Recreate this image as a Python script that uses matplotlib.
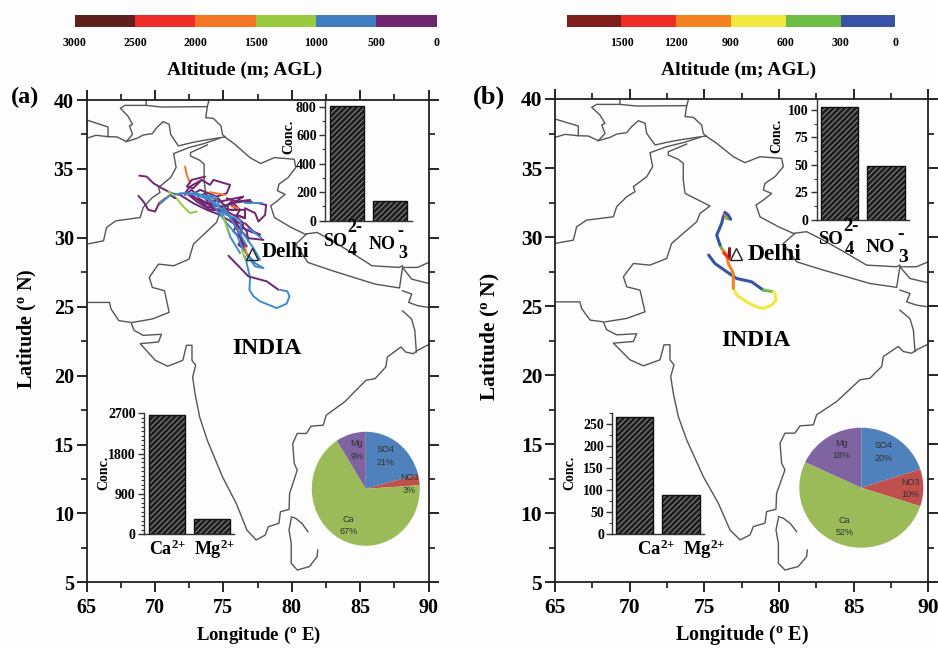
import matplotlib
matplotlib.use("Agg")
import matplotlib.pyplot as plt
from matplotlib.ticker import MultipleLocator

plt.rcParams['font.family'] = ['Liberation Serif', 'DejaVu Serif']
plt.rcParams['font.weight'] = 'bold'
plt.rcParams['mathtext.default'] = 'regular'
plt.rcParams['hatch.linewidth'] = 0.8

W, H = 938, 648

# ---------- data ----------
alt_a_edges = [3000, 2500, 2000, 1500, 1000, 500, 0]
alt_a_colors = ['#5f1f1f', '#ef2d28', '#f47524', '#9acb3c', '#3f7cc0', '#6f2670']
alt_b_edges = [1800, 1500, 1200, 900, 600, 300, 0]
alt_b_labels = [None, 1500, 1200, 900, 600, 300, 0]
alt_b_colors = ['#7f1d1d', '#ef2d28', '#f58220', '#f2e93e', '#6dbe45', '#3953a4']

cations = [r'Ca$^{2{+}}$', r'Mg$^{2{+}}$']
anion_a = [808, 138]
cation_a = [2655, 335]
anion_b = [102.5, 49]
cation_b = [266, 89]

pie_labels = ['SO4', 'NO3', 'Ca', 'Mg']
pie_colors = ['#4f81bd', '#c0504d', '#9bbb59', '#8064a2']
pie_a = [21, 3, 67, 9]
pie_b = [20, 10, 52, 18]

delhi = (77.1, 28.8)

# map outlines (lon, lat)
map_lines = [
    [(65,38.55),(66.56,38.04),(66.56,37.34)],
    [(65,37.22),(65.67,37.44),(66.56,37.34),(67.23,37.32),(67.9,36.98),(68.35,37.51),(68.13,38.12),(68.35,38.24),(68.01,38.84),(67.46,39.4),(67.79,39.61),(69.35,39.61),(69.35,39.93)],
    [(69.35,39.61),(70.47,39.49),(73.82,39.52),(73.93,39.93)],
    [(73.82,39.52),(73.71,38.72),(74.26,38.67),(74.82,38.12),(74.93,37.51),(75.11,37.32)],
    [(67.9,36.98),(68.68,37.22),(69.13,37.46),(69.8,37.56),(70.13,38.0),(70.58,38.43),(71.03,38.24),(71.14,37.51),(71.7,36.67),(72.7,36.91),(73.59,37.08),(75.11,37.32)],
    [(74.71,37.22),(73.59,36.84),(72.48,36.55),(71.36,36.11),(71.54,35.1),(71.14,34.37),(70.25,33.65),(70.36,33.29),(69.8,32.92),(69.13,32.2),(68.91,31.47),(67.12,31.23),(66.45,30.75),(66.23,29.78),(65,29.54)],
    [(73.82,36.74),(72.59,36.18),(72.59,35.94),(73.26,35.63),(73.59,35.34),(73.59,34.13),(73.71,33.16),(74.6,32.68),(75.38,32.25),(74.71,31.71),(74.49,31.11),(73.59,30.27),(72.81,29.54),(72.48,28.45),(71.36,27.97),(70.25,28.09),(69.58,27.13),(69.8,26.4),(70.69,26.16),(71.03,24.59),(69.8,24.11),(68.35,23.86)],
    [(65,25.31),(66.67,25.31),(66.78,24.83),(67.35,23.99),(68.24,23.86),(68.46,23.29),(69.13,22.92),(70.47,23.0),(70.25,22.44),(68.91,22.32),(70.02,21.11),(70.92,20.68),(72.03,21.11),(72.3,22.2),(72.7,22.2),(72.7,21.11),(72.97,20.75),(72.75,19.9),(72.92,18.7),(73.26,17.0),(73.82,15.31),(74.93,12.66),(75.94,10.72),(76.72,8.79),(77.39,8.07),(78.06,8.43),(78.28,9.03),(79.06,9.28),(79.17,10.12),(79.8,10.29),(79.84,11.45),(80.4,13.14),(80.18,13.62),(80.07,15.07),(80.4,15.8),(81.07,15.8),(81.41,16.33),(82.3,16.4),(82.52,17.13),(83.86,18.09),(85.42,19.66),(86.09,19.78),(86.88,20.63),(86.99,21.35),(87.99,22.08),(88.33,21.71),(88.88,21.59),(89.22,21.84),(90,22.25)],
    [(75.11,37.32),(75.83,36.79),(76.94,35.82),(77.72,35.39),(78.73,35.82),(80.18,35.7),(80.29,35.1),(79.73,34.37),(79.06,33.89),(78.95,33.41),(79.51,33.16),(78.95,32.68),(78.46,32.32),(78.73,31.47),(79.96,30.75),(80.96,30.27),(81.85,30.39),(82.97,29.78),(84.53,28.82),(85.87,27.97),(87.88,27.85),(88.1,27.97)],
    [(81.07,30.27),(80.29,29.54),(81.18,28.21),(82.97,27.61),(86.09,26.64),(87.88,26.36),(88.1,27.85)],
    [(90,28.21),(89.2,27.85),(88.1,27.85),(88.77,27.0),(90,26.69)],
    [(88.1,26.16),(88.77,25.92),(88.55,25.31),(89.22,25.07),(90,24.95)],
    [(88.1,24.7),(88.77,24.1),(89.0,23.27),(89.11,21.71)],
    [(79.96,9.76),(80.29,9.64),(80.74,9.28),(81.18,8.67)],
    [(79.96,9.64),(79.8,8.79),(79.96,7.83),(79.96,6.38),(80.4,5.89),(81.29,6.14),(81.85,6.86),(81.9,7.34)],
]

# back trajectories: (colour class, [(lon, lat), ...])
traj_a = [
    (4, [(76.59,28.65),(76.95,27.08),(76.9,26.23),(77.2,25.75),(77.68,25.39),(78.9,24.9),(79.63,25.22),(79.83,25.75),(79.68,26.11),(79.15,26.23)]),
    (3, [(71.46,32.99),(72.07,32.27),(72.56,31.79),(73.05,31.91)]),
    (2, [(72.19,35.17),(72.32,34.56),(72.56,33.96)]),
    (2, [(70.24,32.51),(70.73,32.87)]),
    (5, [(68.85,34.51),(69.39,34.44),(69.88,33.96),(70.49,33.6),(71.22,33.23),(71.83,33.11),(72.8,32.51),(73.78,32.03),(74.76,31.66),(75.73,31.06),(76.22,30.22),(76.58,29.13)]),
    (5, [(68.78,33.04),(69.15,32.63),(69.51,32.03),(70.0,31.91),(70.24,32.39),(71.1,33.11),(71.46,32.87)]),
    (5, [(72.19,33.23),(72.56,33.72),(73.41,34.2),(74.02,33.84),(74.27,34.2),(75.49,33.84),(75.24,33.23),(74.51,32.99),(73.29,33.48),(72.68,33.11),(73.78,32.27),(74.76,32.03),(75.73,31.42),(76.34,30.46),(76.83,29.97),(77.93,29.85)]),
    (5, [(73.17,32.87),(74.02,32.39),(75.0,32.27),(75.73,32.51),(76.46,32.99),(74.76,32.63),(73.78,32.75)]),
    (5, [(77.56,32.51),(78.12,32.39),(78.05,31.66),(77.56,31.18),(77.32,31.79),(76.58,32.15)]),
    (5, [(75.37,28.7),(76.83,27.2),(78.17,26.84),(79.02,26.23)]),
    (5, [(72.32,33.23),(73.05,32.63),(74.02,32.03),(75,32.03),(75.97,31.54),(76.46,31.06),(76.22,30.09),(76.71,29.37)]),
    (5, [(75.24,32.87),(75.97,32.63),(76.95,32.75)]),
    (5, [(75.73,31.3),(75.97,30.82),(76.46,29.37)]),
    (5, [(74.02,32.51),(75.49,32.03),(76.58,32.03),(76.58,31.42),(75.97,31.66)]),
    (5, [(72.19,33.11),(72.68,33.48),(73.17,32.99),(73.66,33.23),(74.15,32.51),(74.63,32.87),(75.12,32.27),(75.61,32.63),(76.22,32.03),(75.97,31.66),(76.58,31.42)]),
    (5, [(75.49,31.42),(75.97,30.94),(75.73,30.46),(76.34,29.97),(76.1,29.49),(76.58,29.13)]),
    (5, [(72.56,33.11),(73.41,32.63),(74.27,32.27),(74.63,32.39),(75.24,32.03),(75.97,32.03),(75.49,32.51),(76.46,32.63),(77.07,32.63)]),
    (5, [(73.66,32.87),(74.27,32.03),(74.88,31.91),(75.49,31.54),(76.34,30.94),(76.71,30.46),(76.83,29.73)]),
    (5, [(76.58,31.06),(77.2,30.46),(77.68,30.22),(76.95,30.46),(76.46,30.7)]),
    (5, [(73.41,34.2),(72.8,33.6),(72.32,33.72),(72.68,34.2),(73.66,34.44)]),
    (4, [(70.37,32.51),(71.1,33.11),(72.07,33.23),(73.05,33.23),(74.02,32.87),(74.51,32.03),(75.24,31.06),(75.97,30.22),(76.46,29.13),(77.32,28.16),(77.93,27.8),(77.32,27.92),(76.71,28.77)]),
    (4, [(73.05,33.11),(74.27,32.63),(75.24,31.66),(76.22,31.3),(76.34,30.46),(77.2,29.25),(77.68,28.4)]),
    (4, [(71.83,33.23),(74.39,32.99),(75,31.66),(75.49,30.09),(76.22,28.89)]),
    (4, [(75.0,32.2),(75.6,31.3),(76.1,30.5),(76.6,29.6)]),
    (4, [(76.58,32.51),(77.8,32.51)]),
    (4, [(76.83,30.7),(77.8,29.97)]),
    (3, [(75,31.54),(75.37,30.34)]),
    (2, [(74.02,33.31),(75.12,33.11)]),
    (2, [(75.61,32.27),(76.1,32.15)]),
    (3, [(70.98,33.36),(71.34,33.11)]),
    (3, [(76.34,29.13),(76.58,28.45)]),
    (2, [(76.58,29.25),(76.71,28.77)]),
]
traj_b = [
    (5, [(75.29,28.7),(75.71,28.09),(76.5,27.49),(77.17,27.0),(78.17,26.76),(78.95,26.16)]),
    (4, [(78.95,26.16),(79.62,26.04)]),
    (3, [(79.62,26.04),(79.73,25.92),(79.8,25.43),(79.51,25.07),(78.95,24.83),(78.5,24.95),(77.83,25.31),(77.17,25.8),(76.94,26.3)]),
    (2, [(76.94,26.3),(76.94,27.37),(76.61,28.09),(76.5,28.7)]),
    (2, [(76.5,28.7),(76.16,29.18)]),
    (4, [(76.16,29.18),(76.05,29.42)]),
    (5, [(76.05,29.42),(75.83,30.14),(76.16,30.99),(76.27,31.47),(76.38,31.71)]),
    (2, [(76.38,31.71),(76.5,31.35)]),
    (4, [(76.5,31.35),(76.76,31.3)]),
    (5, [(76.76,31.3),(76.61,31.59),(76.38,31.79)]),
    (1, [(76.3,28.85),(76.67,28.45)]),
    (0, [(76.67,28.6),(76.67,29.18)]),
]

# ---------- helpers ----------
fig = plt.figure(figsize=(W / 100, H / 100), dpi=100, facecolor='#fdfdfd')


def axpx(left, top, right, bottom):
    return fig.add_axes([left / W, 1 - bottom / H, (right - left) / W, (bottom - top) / H])


def txt(px, py, s, size, **kw):
    kw.setdefault('ha', 'center')
    kw.setdefault('va', 'center')
    return fig.text(px / W, 1 - py / H, s, fontsize=size, **kw)


def colorbar(left, right, edges, colors, labels):
    ax = axpx(left, 14.7, right, 27.3)
    starts = edges[:-1]
    widths = [b - a for a, b in zip(edges[:-1], edges[1:])]
    ax.barh([0], widths, left=starts, height=1, color=colors)
    ax.set_xlim(edges[0], edges[-1])
    ax.set_ylim(-0.5, 0.5)
    ax.set_yticks([])
    ax.set_xticks([e for e, l in zip(edges, labels) if l is not None])
    ax.set_xticklabels([str(l) for l in labels if l is not None], fontsize=8.5)
    ax.tick_params(axis='x', length=0, pad=7)
    for s in ax.spines.values():
        s.set_visible(False)
    ax.patch.set_visible(False)


def main_map(rect, trajs, ticksize, lw):
    ax = axpx(*rect)
    ax.patch.set_visible(False)
    ax.set_xlim(65, 90)
    ax.set_ylim(5, 40)
    ax.xaxis.set_major_locator(MultipleLocator(5))
    ax.xaxis.set_minor_locator(MultipleLocator(2.5))
    ax.yaxis.set_major_locator(MultipleLocator(5))
    ax.yaxis.set_minor_locator(MultipleLocator(2.5))
    ax.tick_params(which='major', direction='out', length=7.2, width=1.2, top=True, right=True,
                   labelsize=ticksize)
    ax.tick_params(which='minor', direction='out', length=4.2, width=1.1, top=True, right=True)
    ax.tick_params(axis='y', pad=2)
    ax.tick_params(axis='x', pad=4)
    for s in ax.spines.values():
        s.set_linewidth(1.3)
        s.set_color('#222222')
    for line in map_lines:
        ax.plot([p[0] for p in line], [p[1] for p in line], color='#555555', lw=1.0, clip_on=True)
    for cls, pts in trajs:
        ax.plot([p[0] for p in pts], [p[1] for p in pts], color=palette[cls], lw=lw,
                solid_capstyle='round', solid_joinstyle='round')
    ax.plot([delhi[0]], [delhi[1]], marker='^', ms=9, mfc='none', mec='#222222', mew=1.0, ls='none')
    return ax


def bar_inset(rect, values, ymax, xlim, width, major, minor):
    ax = axpx(*rect)
    ax.patch.set_visible(False)
    ax.bar([1, 2], values, width=width, facecolor='#1e1e1e', edgecolor='#808080', hatch='//////', lw=0)
    ax.bar([1, 2], values, width=width, fill=False, edgecolor='#111111', lw=1.0)
    ax.set_xlim(*xlim)
    ax.set_ylim(0, ymax)
    ax.set_xticks([])
    ax.yaxis.set_major_locator(MultipleLocator(major))
    ax.yaxis.set_minor_locator(MultipleLocator(minor))
    ax.tick_params(axis='y', which='major', length=4.5, width=1.0, labelsize=10, pad=1.5, color='#333333')
    ax.tick_params(axis='y', which='minor', length=2.5, width=0.8, color='#333333')
    for n in ('top', 'right'):
        ax.spines[n].set_visible(False)
    for n in ('left', 'bottom'):
        ax.spines[n].set_color('#333333')
        ax.spines[n].set_linewidth(1.0)
    return ax


def pie_inset(cx, cy, rx, ry, values):
    ax = axpx(cx - rx, cy - ry, cx + rx, cy + ry)
    ax.pie(values, colors=pie_colors, startangle=90, counterclock=False, radius=1.0)
    ax.set_aspect('auto')
    ax.set_xlim(-1, 1)
    ax.set_ylim(-1, 1)
    return ax


# ---------- panel a ----------
palette = ['#5f1f1f', '#ef2d28', '#f47524', '#9acb3c', '#3f8bd0', '#6f2670']
colorbar(74.7, 436.7, alt_a_edges, alt_a_colors, alt_a_edges)
main_map((86.7, 100, 428.5, 582.3), traj_a, 14.5, 1.4)
bar_inset((325, 100, 411.7, 220.7), anion_a, 847, (0.483, 2.506), 0.8, 200, 100)
bar_inset((144, 413.3, 234.3, 534), cation_a, 2700, (0.483, 2.506), 0.8, 900, 100)
pie_inset(365.8, 488.8, 54, 57, pie_a)

# ---------- panel b ----------
palette = alt_b_colors
colorbar(566.7, 895.3, alt_b_edges, alt_b_colors, alt_b_labels)
main_map((555, 99, 928.3, 582.3), traj_b, 15.5, 2.2)
bar_inset((816.7, 99, 909.3, 220), anion_b, 110, (0.51, 2.5), 0.81, 25, 12.5)
bar_inset((612.3, 413.3, 704.3, 534), cation_b, 275, (0.523, 2.5), 0.81, 50, 25)
pie_inset(861.3, 487.7, 62, 60, pie_b)

# ---------- text ----------
txt(245, 70, 'Altitude (m; AGL)', 14)
txt(739, 70, 'Altitude (m; AGL)', 14)
txt(25, 97, '(a)', 17.5)
txt(489, 97, '(b)', 19)
lat_label = r'Latitude ($^{o}$ N)'
lon_label = r'Longitude ($^{o}$ E)'
txt(27, 329, lat_label, 14.5, rotation=90)
txt(490, 337, lat_label, 15.5, rotation=90)
txt(258, 635, lon_label, 13.5)
txt(742, 635, lon_label, 14.5)
txt(262, 252, 'Delhi', 15, ha='left')
txt(748, 254, 'Delhi', 17, ha='left')
txt(267, 348, 'INDIA', 17)
txt(756, 341, 'INDIA', 17)

txt(288.5, 137, 'Conc.', 10, rotation=90)
txt(104, 473, 'Conc.', 10, rotation=90)
txt(776.7, 136, 'Conc.', 10, rotation=90)
txt(570, 473, 'Conc.', 10, rotation=90)

# ion labels, set with spaced sub- and superscripts as in the source figure
txt(335.5, 241, 'SO', 13)
txt(352.5, 250.5, '4', 13)
txt(354.5, 227, '2-', 13)
txt(382.5, 244.3, 'NO', 13)
txt(402.5, 254, '3', 13)
txt(400, 232, '-', 13)
txt(830.5, 239.3, 'SO', 13.5)
txt(849, 249.5, '4', 13.5)
txt(850.5, 226.5, '2-', 13.5)
txt(880.5, 247.3, 'NO', 14)
txt(903, 257.5, '3', 14)
txt(900.7, 235, '-', 14)

txt(167, 549, cations[0], 13)
txt(214.5, 549, cations[1], 13)
txt(656, 549, cations[0], 13.5)
txt(704, 549, cations[1], 13.5)

pie_text = dict(family='Liberation Sans', weight='normal', color='#333333', linespacing=1.45)
txt(385.7, 456, 'SO4\n21%', 6.5, **pie_text)
txt(357, 450, 'Mg\n9%', 6.5, **pie_text)
txt(409.3, 484, 'NO3\n3%', 6.5, **pie_text)
txt(348.3, 525.5, 'Ca\n67%', 6.5, **pie_text)
txt(883.3, 452, 'SO4\n20%', 6.5, **pie_text)
txt(841.3, 449.7, 'Mg\n18%', 6.5, **pie_text)
txt(910, 488.8, 'NO3\n10%', 6.5, **pie_text)
txt(844.3, 526.3, 'Ca\n52%', 6.5, **pie_text)

fig.savefig('out.png', dpi=100, facecolor=fig.get_facecolor())
